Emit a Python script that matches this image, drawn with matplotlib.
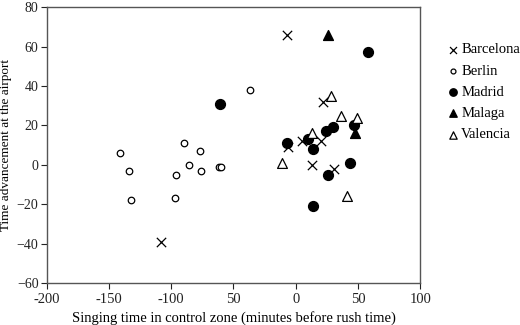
import matplotlib
matplotlib.use('Agg')
import matplotlib.pyplot as plt

plt.rcParams['font.family'] = ['Liberation Serif', 'DejaVu Serif']

# values
barcelona_x = [-108, -7, 22, 5, 20, -6, 13, 31]
barcelona_y = [-39, 66, 32, 12, 12, 9, 0, -2]

berlin_x = [-37, -90, -141, -77, -134, -86, -96, -76, -62, -60, -132, -97]
berlin_y = [38, 11, 6, 7, -3, 0, -5, -3, -1, -1, -18, -17]

madrid_x = [-61, 58, -7, 10, 14, 24, 30, 47, 44, 26, 14]
madrid_y = [31, 57, 11, 13, 8, 17, 19, 20, 1, -5, -21]

malaga_x = [26, 48]
malaga_y = [66, 16]

valencia_x = [28, 36, 49, 13, -11, 41]
valencia_y = [35, 25, 24, 16, 1, -16]

xticks = [-200, -150, -100, -50, 0, 50, 100]
xticklabels = ['-200', '-150', '-100', '50', '0', '50', '100']
yticks = [-60, -40, -20, 0, 20, 40, 60, 80]

fig = plt.figure(figsize=(5.2, 3.25), dpi=100)
ax = fig.add_axes([0.090, 0.129, 0.718, 0.849])

ax.scatter(barcelona_x, barcelona_y, marker='x', s=45, c='black', linewidths=0.9, label='Barcelona')
ax.scatter(berlin_x, berlin_y, marker='o', s=22, facecolors='white', edgecolors='black', linewidths=0.9, label='Berlin')
ax.scatter(madrid_x, madrid_y, marker='o', s=50, c='black', label='Madrid')
ax.scatter(malaga_x, malaga_y, marker='^', s=50, c='black', label='Malaga')
ax.scatter(valencia_x, valencia_y, marker='^', s=50, facecolors='white', edgecolors='black', linewidths=0.9, label='Valencia')

ax.set_xlim(-200, 100)
ax.set_ylim(-60, 80)
ax.set_xticks(xticks)
ax.set_xticklabels(xticklabels)
ax.set_yticks(yticks)
ax.tick_params(direction='out', length=4, width=0.8, labelsize=10.5, colors='#222222')
ax.tick_params(axis='y', labelsize=10, pad=2)
for s in ax.spines.values():
    s.set_color('#555555')
    s.set_linewidth(1.0)

ax.set_xlabel('Singing time in control zone (minutes before rush time)', fontsize=10.5, labelpad=3)
ax.set_ylabel('Time advancement at the airport', fontsize=9.5)
ax.yaxis.set_label_coords(-0.092, 0.5)

fig.legend(loc='upper left', bbox_to_anchor=(0.845, 0.885), frameon=False, fontsize=10.5,
           markerscale=0.75, handletextpad=0.1, labelspacing=0.55, borderaxespad=0, handlelength=1.0)

fig.savefig('out.png', dpi=100)
